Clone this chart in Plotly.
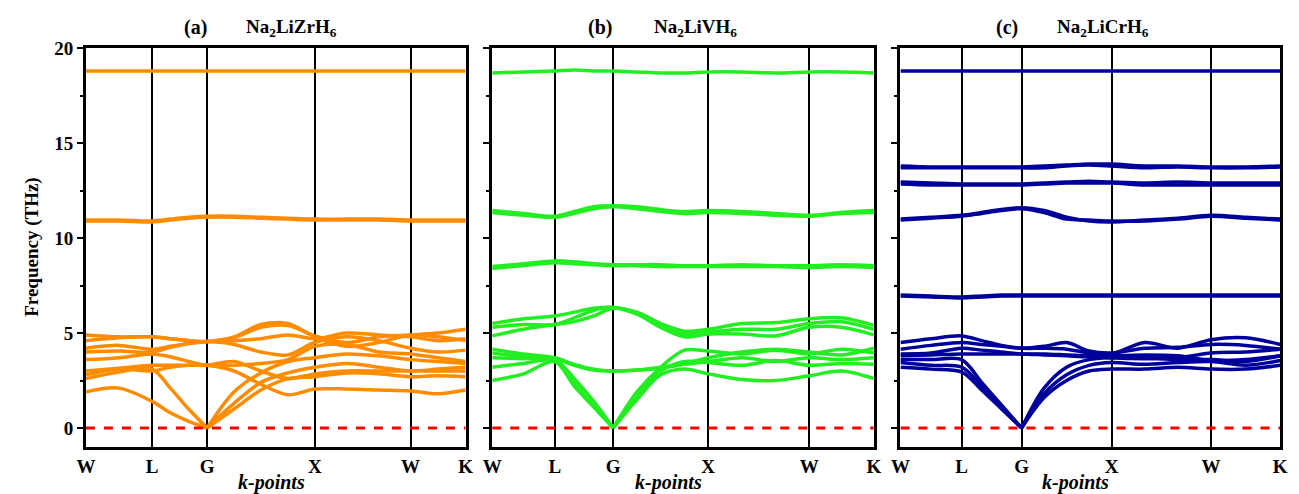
import plotly.graph_objects as go

# ---------------- data ----------------
kpoint_labels = ["W", "L", "G", "X", "W", "K"]
kpos_a = [0.0, 0.174, 0.319, 0.603, 0.855, 1.0]
kpos_b = [0.0, 0.164, 0.317, 0.566, 0.831, 1.0]
kpos_c = [0.0, 0.161, 0.319, 0.556, 0.818, 1.0]
segment_samples = [2, 3, 4, 3, 2]   # sample nodes per path segment

# Panel (a) Na2LiZrH6  (THz)
a_acoustic_left = [          # W .. G
    [1.9, 2.1, 1.4, 0.8, 0.35, 0.0],
    [2.6, 2.95, 3.1, 2.1, 1.0, 0.0],
]
a_acoustic_right = [         # G .. K
    [0.0, 1.0, 2.0, 2.6, 2.7, 2.9, 2.85, 2.7, 2.75, 2.7],
    [0.0, 1.3, 2.4, 2.9, 3.2, 3.4, 3.2, 3.0, 3.1, 3.2],
    [0.0, 1.9, 2.9, 3.5, 3.7, 3.9, 3.8, 3.6, 3.5, 3.4],
]
a_optical = [
    [2.8, 3.1, 3.0, 3.2, 3.3, 3.3, 3.5, 3.0, 2.6, 2.85, 3.0, 3.0, 3.0, 3.0, 3.0],
    [3.0, 3.15, 3.3, 3.3, 3.3, 3.3, 3.0, 2.3, 1.75, 2.05, 2.05, 2.0, 1.95, 1.8, 2.0],
    [3.6, 3.7, 3.9, 3.75, 3.5, 3.3, 3.3, 3.4, 3.6, 4.3, 4.4, 4.0, 3.9, 3.7, 3.5],
    [4.0, 4.05, 4.0, 4.25, 4.45, 4.55, 4.4, 4.0, 3.85, 4.5, 4.8, 4.6, 4.2, 4.0, 4.1],
    [4.2, 4.35, 4.15, 4.3, 4.45, 4.55, 4.75, 5.3, 5.4, 4.85, 4.5, 4.8, 4.9, 5.0, 5.2],
    [4.9, 4.8, 4.8, 4.7, 4.6, 4.55, 4.6, 4.7, 4.9, 4.7, 5.0, 4.9, 4.8, 4.6, 4.7],
    [4.6, 4.75, 4.8, 4.7, 4.6, 4.55, 4.8, 5.45, 5.5, 4.8, 4.3, 4.5, 4.9, 4.8, 4.6],
    [10.95, 10.95, 10.9, 11.0, 11.1, 11.15, 11.15, 11.1, 11.05, 11.0, 11.0, 11.0, 10.95, 10.95, 10.95],
    [10.9, 10.9, 10.85, 10.95, 11.05, 11.1, 11.1, 11.05, 11.0, 10.95, 10.95, 10.95, 10.9, 10.9, 10.9],
    [18.8, 18.8, 18.8, 18.8, 18.8, 18.8, 18.8, 18.8, 18.8, 18.8, 18.8, 18.8, 18.8, 18.8, 18.8],
]

# Panel (b) Na2LiVH6
b_acoustic_left = [
    [2.5, 2.85, 3.5, 2.2, 1.1, 0.0],
    [3.2, 3.4, 3.55, 2.4, 1.2, 0.0],
    [3.7, 3.65, 3.6, 2.6, 1.4, 0.0],
]
b_acoustic_right = [
    [0.0, 1.5, 2.8, 3.1, 2.85, 2.55, 2.5, 2.75, 3.0, 2.6],
    [0.0, 1.7, 3.0, 3.5, 3.45, 3.3, 3.55, 3.3, 3.4, 3.35],
    [0.0, 1.9, 3.2, 4.1, 4.05, 3.9, 4.1, 3.9, 4.15, 3.95],
]
b_optical = [
    [3.95, 3.75, 3.65, 3.3, 3.05, 3.0, 3.05, 3.15, 3.35, 3.5, 3.7, 3.5, 3.7, 3.6, 3.7],
    [4.15, 3.9, 3.7, 3.35, 3.1, 3.0, 3.05, 3.2, 3.4, 3.7, 4.0, 4.15, 4.0, 3.85, 4.2],
    [4.85, 5.2, 5.45, 5.6, 5.9, 6.3, 6.0, 5.3, 4.8, 4.95, 4.95, 4.85, 5.3, 5.3, 4.9],
    [5.3, 5.45, 5.45, 5.8, 6.2, 6.35, 6.05, 5.4, 4.95, 5.05, 5.2, 5.2, 5.5, 5.6, 5.2],
    [5.5, 5.75, 5.9, 6.1, 6.3, 6.35, 6.1, 5.5, 5.1, 5.2, 5.5, 5.55, 5.75, 5.8, 5.4],
    [8.5, 8.65, 8.8, 8.75, 8.65, 8.6, 8.6, 8.6, 8.55, 8.55, 8.6, 8.55, 8.55, 8.6, 8.55],
    [8.4, 8.55, 8.7, 8.65, 8.6, 8.55, 8.55, 8.5, 8.5, 8.5, 8.5, 8.5, 8.45, 8.5, 8.45],
    [11.45, 11.3, 11.15, 11.4, 11.65, 11.7, 11.65, 11.5, 11.4, 11.45, 11.4, 11.3, 11.2, 11.35, 11.45],
    [11.35, 11.2, 11.1, 11.3, 11.55, 11.65, 11.55, 11.4, 11.3, 11.35, 11.3, 11.2, 11.15, 11.3, 11.35],
    [18.7, 18.75, 18.8, 18.85, 18.8, 18.8, 18.75, 18.7, 18.7, 18.75, 18.75, 18.7, 18.75, 18.75, 18.7],
]

# Panel (c) Na2LiCrH6
c_acoustic_left = [
    [3.2, 3.1, 2.95, 2.0, 1.0, 0.0],
    [3.45, 3.3, 3.2, 2.2, 1.1, 0.0],
    [3.6, 3.6, 3.6, 2.4, 1.2, 0.0],
]
c_acoustic_right = [
    [0.0, 1.6, 2.5, 3.0, 3.1, 3.1, 3.2, 3.1, 3.1, 3.3],
    [0.0, 1.8, 2.8, 3.3, 3.45, 3.35, 3.45, 3.5, 3.3, 3.55],
    [0.0, 2.1, 3.2, 3.6, 3.7, 3.7, 3.6, 3.6, 3.5, 3.8],
]
c_optical = [
    [3.8, 3.85, 3.9, 3.9, 3.9, 3.9, 3.85, 3.8, 3.75, 3.8, 3.85, 3.8, 3.55, 3.6, 3.8],
    [3.9, 3.95, 4.2, 4.1, 4.0, 3.9, 3.9, 3.85, 3.8, 3.7, 3.65, 3.7, 3.95, 4.0, 4.15],
    [4.15, 4.35, 4.5, 4.4, 4.3, 4.2, 4.3, 4.5, 4.05, 3.95, 4.2, 4.25, 4.4, 4.35, 4.15],
    [4.5, 4.7, 4.85, 4.6, 4.35, 4.2, 4.2, 4.15, 3.95, 3.9, 4.5, 4.2, 4.65, 4.75, 4.4],
    [7.0, 6.95, 6.9, 6.95, 7.0, 7.0, 7.0, 7.0, 7.0, 7.0, 7.0, 7.0, 7.0, 7.0, 7.0],
    [6.95, 6.9, 6.85, 6.9, 6.95, 6.95, 6.95, 6.95, 6.95, 6.95, 6.95, 6.95, 6.95, 6.95, 6.95],
    [11.0, 11.1, 11.2, 11.35, 11.5, 11.6, 11.45, 11.1, 10.9, 10.85, 10.95, 11.05, 11.2, 11.1, 11.0],
    [10.95, 11.05, 11.15, 11.3, 11.45, 11.55, 11.35, 11.0, 10.95, 10.9, 10.9, 11.0, 11.15, 11.05, 10.95],
    [12.95, 12.9, 12.85, 12.85, 12.85, 12.85, 12.9, 12.95, 13.0, 12.95, 12.9, 12.95, 12.9, 12.9, 12.9],
    [12.85, 12.8, 12.8, 12.8, 12.8, 12.8, 12.85, 12.9, 12.9, 12.9, 12.8, 12.8, 12.8, 12.8, 12.8],
    [13.8, 13.75, 13.75, 13.75, 13.75, 13.75, 13.8, 13.85, 13.9, 13.9, 13.8, 13.8, 13.75, 13.75, 13.8],
    [13.7, 13.7, 13.7, 13.7, 13.7, 13.7, 13.7, 13.8, 13.85, 13.8, 13.7, 13.75, 13.7, 13.7, 13.75],
    [18.8, 18.8, 18.8, 18.8, 18.8, 18.8, 18.8, 18.8, 18.8, 18.8, 18.8, 18.8, 18.8, 18.8, 18.8],
]

titles = ["(a)", "(b)", "(c)"]
compounds = ["Na<sub>2</sub>LiZrH<sub>6</sub>", "Na<sub>2</sub>LiVH<sub>6</sub>", "Na<sub>2</sub>LiCrH<sub>6</sub>"]
colors = ["#FF8C00", "#22EE22", "#00009A"]

# ---------------- figure ----------------
W, H = 1299, 494
FONT = "Liberation Serif"
panels_px = [(77, 462), (489, 876), (903, 1288)]
y_dom = [1 - 446 / H, 1 - 39 / H]
title_px = [(188, 285), (598, 695), (1011, 1108)]
kp_label_px = [265, 668, 1080]


def node_grid(kpos):
    xs = [kpos[0]]
    for i, n in enumerate(segment_samples):
        for j in range(1, n + 1):
            xs.append(kpos[i] + (kpos[i + 1] - kpos[i]) * j / n)
    return xs


panels = [
    (kpos_a, a_acoustic_left, a_acoustic_right, a_optical),
    (kpos_b, b_acoustic_left, b_acoustic_right, b_optical),
    (kpos_c, c_acoustic_left, c_acoustic_right, c_optical),
]

fig = go.Figure()
annotations = []
for p, (kpos, acl, acr, opt) in enumerate(panels):
    xs = node_grid(kpos)
    g = 5
    xa = "x" if p == 0 else f"x{p+1}"
    ya = "y" if p == 0 else f"y{p+1}"
    line = dict(color=colors[p], width=3.5, shape="spline", smoothing=0.9)
    for band in opt:
        fig.add_trace(go.Scatter(x=xs, y=band, mode="lines", line=line,
                                 xaxis=xa, yaxis=ya, hoverinfo="skip", showlegend=False))
    for band in acl:
        fig.add_trace(go.Scatter(x=xs[:g + 1], y=band, mode="lines", line=line,
                                 xaxis=xa, yaxis=ya, hoverinfo="skip", showlegend=False))
    for band in acr:
        fig.add_trace(go.Scatter(x=xs[g:], y=band, mode="lines", line=line,
                                 xaxis=xa, yaxis=ya, hoverinfo="skip", showlegend=False))
    # zero-frequency reference
    fig.add_trace(go.Scatter(x=[kpos[0], kpos[-1]], y=[0, 0], mode="lines",
                             line=dict(color="#FF0000", width=3, dash="dash"),
                             xaxis=xa, yaxis=ya, hoverinfo="skip", showlegend=False))

    x0, x1 = panels_px[p]
    xkey = "xaxis" if p == 0 else f"xaxis{p+1}"
    ykey = "yaxis" if p == 0 else f"yaxis{p+1}"
    fig.update_layout({
        xkey: dict(domain=[x0 / W, x1 / W], range=[kpos[0], kpos[-1]], anchor=ya,
                   tickvals=kpos, ticktext=kpoint_labels, ticks="",
                   showgrid=True, gridcolor="black", gridwidth=1.8,
                   showline=True, linecolor="black", linewidth=3, mirror=True,
                   zeroline=False,
                   tickfont=dict(family=FONT, size=19, color="black", weight="bold")),
        ykey: dict(domain=y_dom, range=[-1, 20], anchor=xa,
                   tickvals=[0, 5, 10, 15, 20], ticks="outside", ticklen=6, tickwidth=2,
                   tickcolor="black",
                   minor=dict(tickvals=[2.5, 7.5, 12.5, 17.5], ticks="outside",
                              ticklen=3, tickwidth=2, tickcolor="black"),
                   showticklabels=(p == 0),
                   showgrid=False, zeroline=False,
                   showline=True, linecolor="black", linewidth=3, mirror=True,
                   tickfont=dict(family=FONT, size=19, color="black", weight="bold")),
    })
    tx1, tx2 = title_px[p]
    annotations.append(dict(x=tx1 / W, y=1 - 18 / H, xref="paper", yref="paper",
                            text=titles[p], showarrow=False, xanchor="center", yanchor="middle",
                            font=dict(family=FONT, size=20, color="black", weight="bold")))
    annotations.append(dict(x=tx2 / W, y=1 - 18 / H, xref="paper", yref="paper",
                            text=compounds[p], showarrow=False, xanchor="center", yanchor="middle",
                            font=dict(family=FONT, size=19, color="black", weight="bold")))
    annotations.append(dict(x=kp_label_px[p] / W, y=1 - 482 / H, xref="paper", yref="paper",
                            text="<i>k-points</i>", showarrow=False, xanchor="center", yanchor="middle",
                            font=dict(family=FONT, size=20, color="black", weight="bold")))

annotations.append(dict(x=22 / W, y=1 - 242 / H, xref="paper", yref="paper",
                        text="Frequency (THz)", showarrow=False, textangle=-90,
                        xanchor="center", yanchor="middle",
                        font=dict(family=FONT, size=19, color="black", weight="bold")))

fig.update_layout(width=W, height=H, margin=dict(l=0, r=0, t=0, b=0),
                  plot_bgcolor="white", paper_bgcolor="white",
                  annotations=annotations, showlegend=False)

fig.write_html("out.html", config={"displayModeBar": False},
               post_script="document.body.style.margin='0';document.body.style.overflow='hidden';")
